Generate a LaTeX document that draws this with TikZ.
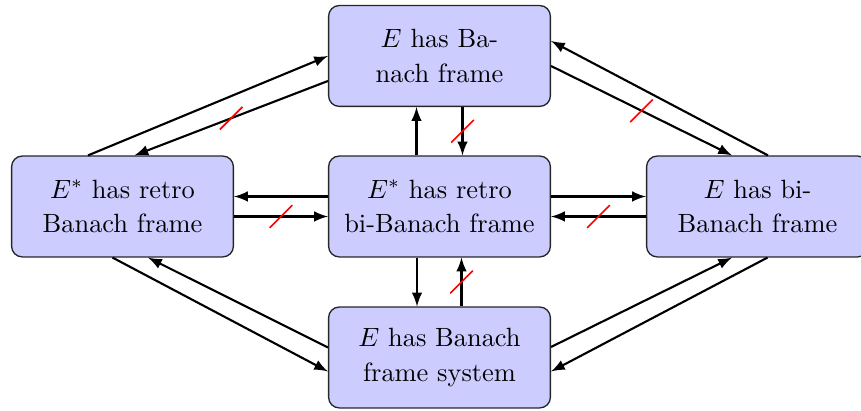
\documentclass[tikz,border=0pt]{standalone}
\usetikzlibrary{calc}

\begin{document}
\begin{tikzpicture}[x=0.3788pt, y=-0.3788pt,
  box/.style={draw=black!85, fill=blue!20, rounded corners=4pt,
    minimum width=84pt, minimum height=38.2pt, inner sep=0pt,
    align=center, line width=0.5pt, font=\fontsize{10}{13}\selectfont},
  imp/.style={thick, -latex},
  nimp/.style={red, line width=0.65pt}]

\useasboundingbox (0,0) rectangle (861,411);

% the five statements
\node[box] (T) at (439.5,56)    {$E$ has Ba-\\nach frame};
\node[box] (C) at (439.5,206.5) {$E^*$ has retro\\bi-Banach frame};
\node[box] (L) at (122.5,206.5) {$E^*$ has retro\\Banach frame};
\node[box] (R) at (757.5,206.5) {$E$ has bi-\\Banach frame};
\node[box] (B) at (439.5,357.5) {$E$ has Banach\\frame system};

% implications between left and top
\draw[imp] ($(L.north)+(-34.5,0)$) -- (T.west);
\draw[imp] ($(T.west)+(0,25)$) -- coordinate[midway] (m1) ($(L.north)+(12,0)$);

% implications between centre and left
\draw[imp] ($(C.west)+(0,-10)$) -- ($(L.east)+(0,-10)$);
\draw[imp] ($(L.east)+(0,10)$) -- coordinate[midway] (m2) ($(C.west)+(0,10)$);

% implications between centre and top
\draw[imp] ($(C.north)+(-23,0)$) -- ($(T.south)+(-23,0)$);
\draw[imp] ($(T.south)+(23,0)$) -- coordinate[midway] (m3) ($(C.north)+(23,0)$);

% implications between centre and bottom
\draw[imp] ($(C.south)+(-22.5,0)$) -- ($(B.north)+(-22.5,0)$);
\draw[imp] ($(B.north)+(22,0)$) -- coordinate[midway] (m4) ($(C.south)+(22,0)$);

% implications between right and top
\draw[imp] ($(R.north)+(10.5,0)$) -- ($(T.east)+(0,-15)$);
\draw[imp] ($(T.east)+(0,10)$) -- coordinate[midway] (m5) ($(R.north)+(-25.5,0)$);

% implications between centre and right
\draw[imp] ($(C.east)+(0,-10)$) -- ($(R.west)+(0,-10)$);
\draw[imp] ($(R.west)+(0,10)$) -- coordinate[midway] (m6) ($(C.east)+(0,10)$);

% implications between left and bottom
\draw[imp] ($(L.south)+(-10,0)$) -- ($(B.west)+(0,14)$);
\draw[imp] ($(B.west)+(0,-10)$) -- ($(L.south)+(25.5,0)$);

% implications between right and bottom
\draw[imp] ($(B.east)+(0,-10.5)$) -- ($(R.south)+(-25.5,0)$);
\draw[imp] ($(R.south)+(10,0)$) -- ($(B.east)+(0,14)$);

% strokes marking the failing implications
\foreach \m in {m1,m2,m3,m4,m5,m6}
  \draw[nimp] ($(\m)+(-11.3,11.3)$) -- ($(\m)+(11.3,-11.3)$);

\end{tikzpicture}
\end{document}
